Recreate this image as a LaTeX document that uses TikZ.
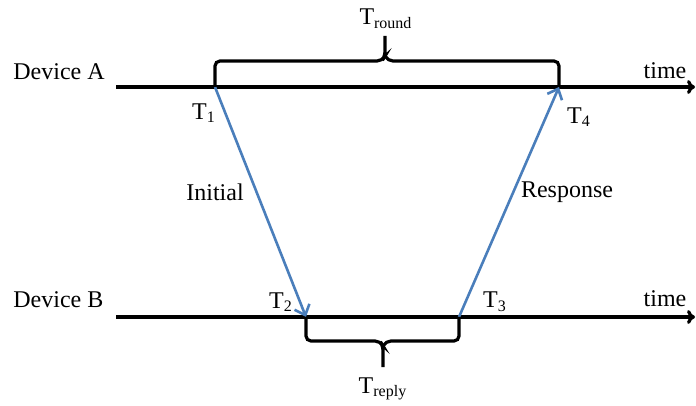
\documentclass[tikz,border=0pt]{standalone}
\usepackage{fontspec}
\setmainfont{Liberation Serif}
\usetikzlibrary{arrows.meta,calc}

\definecolor{msgblue}{RGB}{74,126,187}

\begin{document}
\begin{tikzpicture}[
    x=0.5pt, y=-0.5pt,
    font=\fontsize{12}{14}\selectfont,
    axis/.style={line width=1.6pt, -{To[length=4pt,width=7pt]}},
    msg/.style={line width=1.3pt, draw=msgblue, -{Straight Barb[length=4.5pt,width=8pt]}},
    brc/.style={line width=1.6pt, rounded corners=2.5pt},
    lbl/.style={inner sep=0pt},
  ]
  \useasboundingbox (0,0) rectangle (696,406);

  % ---------- time axes ----------
  \coordinate (a0) at (116,87);
  \coordinate (a1) at (695,87);
  \coordinate (b0) at (116,317);
  \coordinate (b1) at (695,317);
  \draw[axis] (a0) -- (a1);
  \draw[axis] (b0) -- (b1);
  \node[lbl, anchor=west] (devA) at (13,72) {Device A};
  \node[lbl, anchor=west] (devB) at (13,300) {Device B};
  \node[lbl] (timeA) at (665,71) {time};
  \node[lbl] (timeB) at (665,299) {time};

  % ---------- time stamps ----------
  \coordinate (t1) at (215,87);
  \coordinate (t2) at (306,317);
  \coordinate (t3) at (459,317);
  \coordinate (t4) at (559,87);
  \node[lbl] (lt1) at (204,113) {T\textsubscript{1}};
  \node[lbl] (lt2) at (281,302) {T\textsubscript{2}};
  \node[lbl] (lt3) at (495,302) {T\textsubscript{3}};
  \node[lbl] (lt4) at (579,117) {T\textsubscript{4}};

  % ---------- messages ----------
  \draw[msg] (t1) -- (t2);
  \draw[msg] (t3) -- (t4);
  \node[lbl] (init) at (215,192) {Initial};
  \node[lbl] (resp) at (567,192) {Response};

  % ---------- braces ----------
  \draw[brc] (t1) -- (215,61) -- (382,61) -- (385,56) -- (385,36);
  \draw[brc] (t4) -- (559,61) -- (388,61) -- (385,56);
  \node[lbl] (tround) at (386,19) {T\textsubscript{round}};
  \draw[brc] (t2) -- (306,341) -- (380,341) -- (383,346) -- (383,367);
  \draw[brc] (t3) -- (459,341) -- (386,341) -- (383,346);
  \node[lbl] (treply) at (383,389) {T\textsubscript{reply}};

\end{tikzpicture}
\end{document}
